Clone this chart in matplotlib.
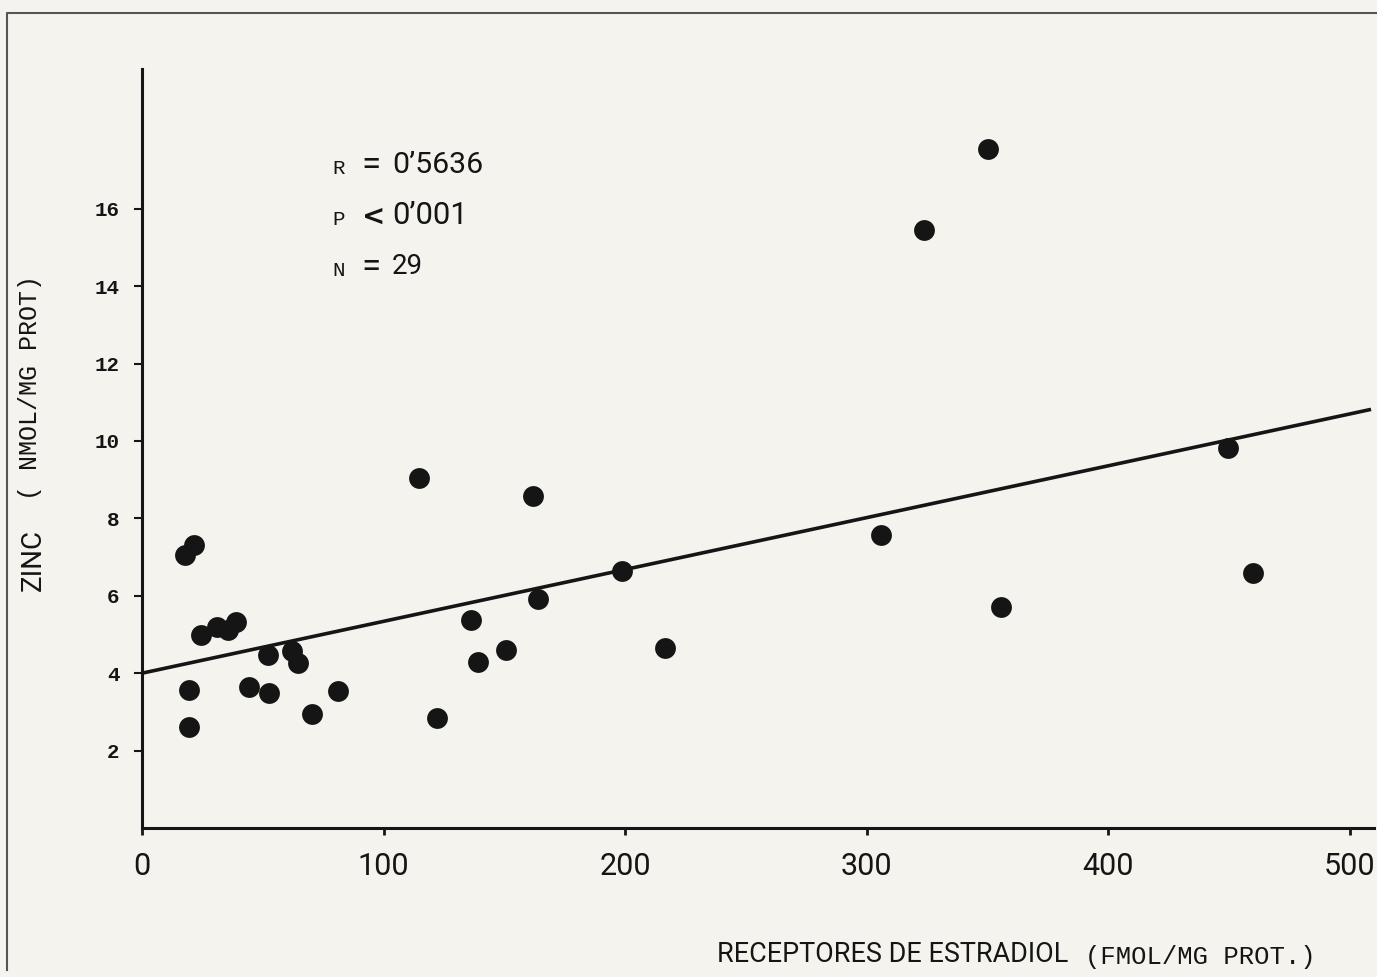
import matplotlib
matplotlib.use('Agg')
import matplotlib.pyplot as plt
import numpy as np

# datos
receptores = [18, 21.5, 19.5, 19.5, 24.5, 31, 35.5, 39, 44.5, 52, 52.5, 62, 64.5, 70.5, 81,
              114.5, 122, 136, 139, 150.5, 162, 164, 198.5, 216.5,
              306, 323.5, 350, 355.5, 449.5, 460]
zinc = [7.05, 7.3, 3.57, 2.62, 5.0, 5.2, 5.12, 5.32, 3.64, 4.47, 3.5, 4.57, 4.27, 2.95, 3.55,
        9.05, 2.85, 5.37, 4.3, 4.6, 8.58, 5.92, 6.65, 4.65,
        7.57, 15.45, 17.55, 5.72, 9.82, 6.6]
reg_intercept = 4.0
reg_slope = 0.0134
xticks = [0, 100, 200, 300, 400, 500]
yticks = [2, 4, 6, 8, 10, 12, 14, 16]

W, H = 1377, 977
bg = '#f4f3ee'
ink = '#151515'
narrow = ['Roboto', 'DejaVu Sans']
mono = ['Liberation Mono', 'DejaVu Sans Mono']

fig = plt.figure(figsize=(W / 100, H / 100), dpi=100, facecolor=bg)
ax = fig.add_axes([0.1031, 0.1525, 0.8948, 0.7764])
ax.set_facecolor(bg)


def put(s, x, y, length=None, size=20, rot=0, **kw):
    # texto en pixeles de la imagen, ajustado a un largo dado
    t = fig.text(x / W, 1 - y / H, s, fontsize=size, rotation=rot, color=ink, **kw)
    if length:
        bb = t.get_window_extent(fig.canvas.get_renderer())
        cur = bb.height if rot else bb.width
        t.set_fontsize(size * length / cur)
    return t


ax.scatter(receptores, zinc, s=225, color=ink, zorder=3, linewidths=0)
lx = np.array([0, 508])
ax.plot(lx, reg_intercept + reg_slope * lx, color=ink, lw=2.6, zorder=2)

ax.set_xlim(0, 510)
ax.set_ylim(0, 19.6)
for s in ['top', 'right']:
    ax.spines[s].set_visible(False)
for s in ['left', 'bottom']:
    ax.spines[s].set_linewidth(2.2)
    ax.spines[s].set_color(ink)

ax.set_xticks(xticks)
ax.set_xticklabels([str(v) for v in xticks], family=narrow, fontsize=22, color=ink)
ax.set_yticks(yticks)
ax.set_yticklabels([str(v) for v in yticks], family=mono, fontsize=15,
                   fontweight='bold', color=ink)
ax.tick_params(axis='x', direction='out', length=5, width=2, pad=12, colors=ink)
ax.tick_params(axis='y', direction='out', length=6, width=1.5, pad=10, colors=ink)

# etiquetas de ejes
put('RECEPTORES DE ESTRADIOL', 717, 962, length=351, family=narrow,
    ha='left', va='baseline')
put('(FMOL/MG PROT.)', 1085, 964, length=230, family=mono,
    ha='left', va='baseline')
put('ZINC', 33, 560, length=62, rot=90, family=narrow, ha='center', va='center')
put('( NMOL/MG PROT)', 30, 387, length=225, rot=90, family=mono,
    ha='center', va='center')

# estadisticos
put('R', 332, 168, size=15, family=mono, ha='left', va='center')
put('=', 361, 165, size=25, family=narrow, ha='left', va='center')
put('0\u20195636', 392, 165, length=91, family=narrow, ha='left', va='center')
put('P', 332, 219, size=15, family=mono, ha='left', va='center')
put('<', 362, 217, size=20, family=['DejaVu Sans'], fontweight='bold',
    ha='left', va='center')
put('0\u2019001', 392, 215, length=76, family=narrow, ha='left', va='center')
put('N', 332, 270, size=15, family=mono, ha='left', va='center')
put('=', 361, 267, size=25, family=narrow, ha='left', va='center')
put('29', 392, 266, length=31, family=narrow, ha='left', va='center')

# marco del escaneo
fig.add_artist(plt.Line2D([0.005, 0.005, 1.0], [0.007, 0.987, 0.987],
                          transform=fig.transFigure, color='#555555', lw=1.5))

fig.savefig('out.png', dpi=100, facecolor=bg)
